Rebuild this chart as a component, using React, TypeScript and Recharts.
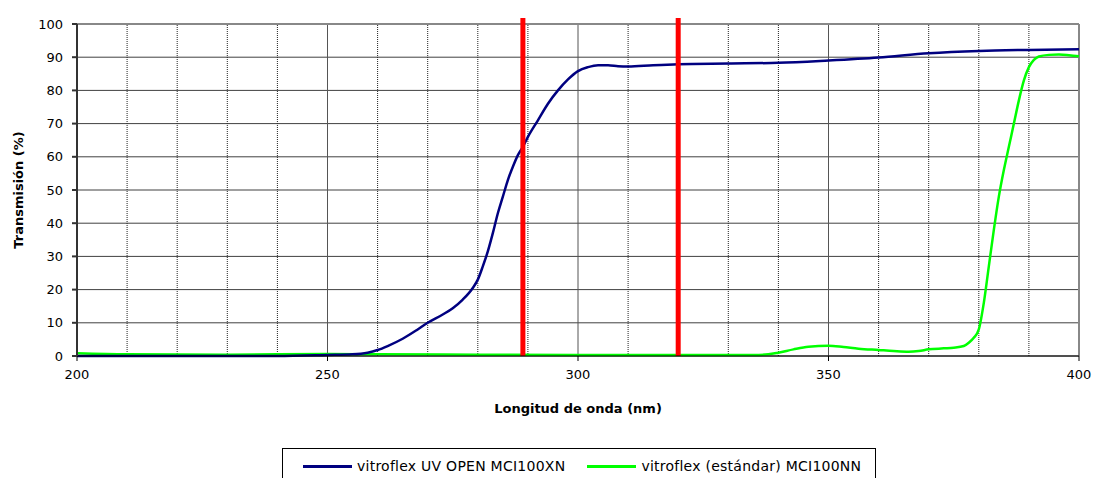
import {
  LineChart,
  Line,
  XAxis,
  YAxis,
  CartesianGrid,
  ReferenceLine,
} from "recharts";

// UV OPEN glass (navy)
const uvWavelengths = [
  200, 220, 240, 250, 255, 258, 260, 262, 265, 268, 270, 273, 275, 277, 279, 280, 281, 282, 283, 284,
  285, 286, 287, 288, 289, 290, 292, 294, 296, 298, 300, 302, 304, 306, 308, 310, 315, 320, 330, 340,
  350, 360, 370, 380, 390, 400,
];
const uvValues = [
  0, 0, 0, 0.3, 0.5, 1, 1.8, 3, 5.2, 8, 10, 12.5, 14.4, 17, 20.5, 23, 27, 31.5, 37, 43,
  48, 53, 57, 60.5, 63, 66, 71, 76, 80, 83.3, 85.8, 87, 87.6, 87.6, 87.3, 87.2, 87.6, 87.9, 88.1, 88.3,
  89, 89.9, 91.2, 91.9, 92.2, 92.4,
];

// standard glass (green)
const stdWavelengths = [
  200, 210, 230, 250, 260, 280, 300, 320, 335, 338, 340, 343, 346, 350, 353, 356, 360, 363, 366, 368,
  370, 373, 375, 377, 378, 379, 380, 381, 382, 383, 384, 385, 386, 387, 388, 389, 390, 391, 392, 394,
  396, 398, 400,
];
const stdValues = [
  0.8, 0.5, 0.4, 0.6, 0.5, 0.4, 0.3, 0.3, 0.3, 0.5, 1, 2, 2.8, 3.1, 2.7, 2.2, 1.8, 1.5, 1.3, 1.5,
  2, 2.3, 2.5, 3, 4, 5.5, 8, 16, 27, 38, 48, 56, 63, 70, 77, 83, 87, 89.2, 90.2, 90.7,
  90.8, 90.6, 90.3,
];

const cutoffLines = [289, 320];
const xTicks = [200, 250, 300, 350, 400];
const yTicks = [0, 10, 20, 30, 40, 50, 60, 70, 80, 90, 100];
const minorX = [210, 220, 230, 240, 260, 270, 280, 290, 310, 320, 330, 340, 360, 370, 380, 390];
const majorX = [250, 300, 350];

const SERIES = [
  { name: "vitroflex UV OPEN MCI100XN", color: "#000080" },
  { name: "vitroflex (estándar) MCI100NN", color: "#00FF00" },
];

const FONT = "'DejaVu Sans', Verdana, sans-serif";

const uvData = uvWavelengths.map((x, i) => ({ x, y: uvValues[i] }));
const stdData = stdWavelengths.map((x, i) => ({ x, y: stdValues[i] }));

export default function App() {
  const tick = { fontSize: 13, fill: "#000", fontFamily: FONT };

  return (
    <div style={{ position: "relative", width: 1095, height: 478, overflow: "hidden", background: "#fff" }}>
      <style>{"body{margin:0}"}</style>
      <LineChart width={1095} height={478} margin={{ top: 24, right: 16, bottom: 92, left: 0 }}>
        <CartesianGrid vertical={false} stroke="#404040" strokeWidth={1} />
        {minorX.map((v) => (
          <ReferenceLine key={"m" + v} x={v} stroke="#222" strokeDasharray="1 1" />
        ))}
        {majorX.map((v) => (
          <ReferenceLine key={"M" + v} x={v} stroke="#555" strokeWidth={1} />
        ))}
        <ReferenceLine y={100} stroke="#888" strokeWidth={2} />
        <ReferenceLine x={400} stroke="#888" strokeWidth={2} />
        <XAxis
          type="number"
          dataKey="x"
          domain={[200, 400]}
          ticks={xTicks}
          allowDuplicatedCategory={false}
          height={30}
          tick={tick}
          tickSize={5}
          tickMargin={9}
          stroke="#000"
          label={{
            content: ({ viewBox }: any) => (
              <text
                x={viewBox.x + viewBox.width / 2}
                y={viewBox.y + 57}
                textAnchor="middle"
                style={{ fontFamily: FONT, fontSize: 13, fontWeight: "bold" }}
                fill="#000"
              >
                Longitud de onda (nm)
              </text>
            ),
          }}
        />
        <YAxis
          type="number"
          domain={[0, 100]}
          ticks={yTicks}
          width={77}
          tick={tick}
          tickSize={5}
          tickMargin={9}
          stroke="#333"
          strokeWidth={2}
          label={{
            content: ({ viewBox }: any) => {
              const cx = 23;
              const cy = viewBox.y + viewBox.height / 2;
              return (
                <text
                  x={cx}
                  y={cy}
                  textAnchor="middle"
                  transform={`rotate(-90 ${cx} ${cy})`}
                  style={{ fontFamily: FONT, fontSize: 13, fontWeight: "bold" }}
                  fill="#000"
                >
                  Transmisión (%)
                </text>
              );
            },
          }}
        />
        <Line
          data={stdData}
          dataKey="y"
          type="monotone"
          stroke={SERIES[1].color}
          strokeWidth={2.5}
          dot={false}
          isAnimationActive={false}
        />
        <Line
          data={uvData}
          dataKey="y"
          type="monotone"
          stroke={SERIES[0].color}
          strokeWidth={2.5}
          dot={false}
          isAnimationActive={false}
        />
        {cutoffLines.map((v) => (
          <ReferenceLine
            key={"c" + v}
            segment={[{ x: v, y: 0 }, { x: v, y: 101.8 }]}
            ifOverflow="visible"
            stroke="#FF0000"
            strokeWidth={5}
          />
        ))}
      </LineChart>
      <div
        style={{
          position: "absolute",
          left: 282,
          top: 448,
          width: 594,
          height: 40,
          border: "1px solid #000",
          boxSizing: "border-box",
          display: "flex",
          alignItems: "flex-start",
          paddingTop: 9,
          paddingLeft: 20,
          fontFamily: FONT,
          fontSize: 14,
          letterSpacing: 0.25,
          color: "#000",
        }}
      >
        {SERIES.map((s, i) => (
          <div key={s.name} style={{ display: "flex", alignItems: "center", marginRight: i === 0 ? 22 : 0 }}>
            <span style={{ display: "inline-block", width: 49, height: 3, background: s.color, marginRight: 5 }} />
            <span>{s.name}</span>
          </div>
        ))}
      </div>
    </div>
  );
}
